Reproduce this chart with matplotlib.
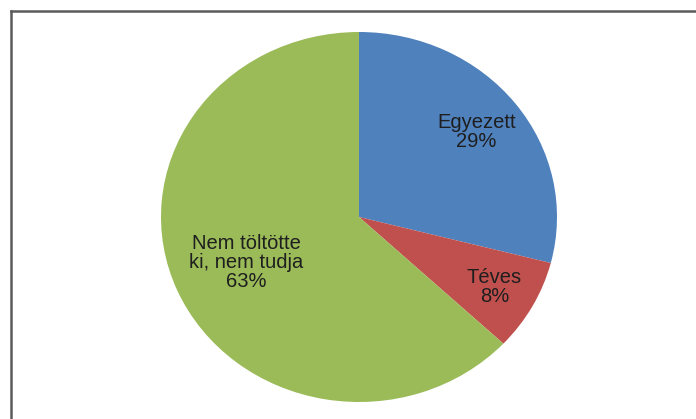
import numpy as np
import matplotlib.pyplot as plt
from matplotlib.lines import Line2D

labels = ["Egyezett", "Téves", "Nem töltötte\nki, nem tudja"]
shares = [29, 8, 63]
colors = ["#4F81BD", "#C0504D", "#9BBB59"]
label_radius = [0.75, 0.78, 0.62]

W, H = 696, 419
fig = plt.figure(figsize=(W / 100, H / 100), dpi=100)
ax = fig.add_axes([0, 0, 1, 1])

wedges, _ = ax.pie(shares, colors=colors, startangle=90, counterclock=False,
                   wedgeprops=dict(linewidth=0))

# slightly wider than tall, centre at (359, 217) px
cx, cy, rx, ry = 359, 217, 198, 185
ax.set_aspect("auto")
ax.set_xlim(-cx / rx, (W - cx) / rx)
ax.set_ylim(-(H - cy) / ry, cy / ry)
ax.axis("off")

for w, lab, val, r in zip(wedges, labels, shares, label_radius):
    ang = np.deg2rad((w.theta1 + w.theta2) / 2)
    ax.text(r * np.cos(ang), r * np.sin(ang), f"{lab}\n{val}%",
            ha="center", va="center", fontsize=14.5, color="#1e1e1e",
            family="Liberation Sans", linespacing=1.0)

# outer chart frame (only top and left edges fall inside the image)
fx = 10.5 / W
fy = 1 - 11.5 / H
fig.add_artist(Line2D([fx, 1], [fy, fy], color="#5a5a5a", lw=1.8))
fig.add_artist(Line2D([fx, fx], [0, fy], color="#5a5a5a", lw=1.8))

fig.savefig("out.png", dpi=100)
